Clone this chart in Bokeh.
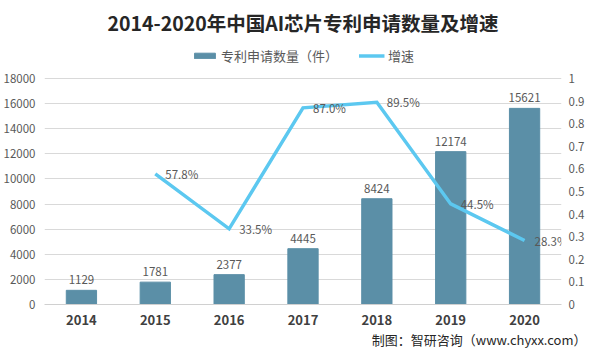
from bokeh.plotting import figure
from bokeh.models import (Range1d, LinearAxis, ColumnDataSource, Legend, LegendItem,
                          LabelSet, Title, FixedTicker, NumeralTickFormatter)
from bokeh.core.properties import value
from bokeh.embed import file_html
from bokeh.resources import INLINE

# ---- data ----
years = ["2014", "2015", "2016", "2017", "2018", "2019", "2020"]
counts = [1129, 1781, 2377, 4445, 8424, 12174, 15621]
growth_years = ["2015", "2016", "2017", "2018", "2019", "2020"]
growth = [0.578, 0.335, 0.870, 0.895, 0.445, 0.283]
count_ticks = [0, 2000, 4000, 6000, 8000, 10000, 12000, 14000, 16000, 18000]
pct_ticks = [0, 0.1, 0.2, 0.3, 0.4, 0.5, 0.6, 0.7, 0.8, 0.9, 1.0]
count_max = 18000
pct_max = 1.0

title_text = "2014-2020年中国AI芯片专利申请数量及增速"
bar_name = "专利申请数量（件）"
line_name = "增速"
footer_text = "制图：智研咨询（www.chyxx.com）"

BAR = "#5B8FA7"
LINE = "#5CC8F0"
TXT = "#595959"
CJK = "Noto Sans CJK SC"

# headroom above the top gridline (in px) where the legend sits, inside the frame
GRID_PX = 226.0
HEAD_PX = 37.0
ext = (GRID_PX + HEAD_PX) / GRID_PX

bar_src = ColumnDataSource(dict(year=years, count=counts, label=[str(c) for c in counts]))
line_src = ColumnDataSource(dict(year=growth_years, g=growth,
                                 label=["%.1f%%" % (v * 100) for v in growth]))

p = figure(width=589, height=348, x_range=years, y_range=Range1d(0, count_max * ext),
           output_backend="svg", toolbar_location=None,
           min_border_left=40, min_border_right=28, min_border_top=40, min_border_bottom=0)
p.extra_y_ranges = {"pct": Range1d(0, pct_max * ext)}
p.outline_line_color = None
p.background_fill_color = "white"
p.border_fill_color = "white"

bars = p.vbar(x="year", top="count", width=0.41, color=BAR, source=bar_src)
line = p.line(x="year", y="g", y_range_name="pct", source=line_src,
              line_color=LINE, line_width=3.5, line_join="miter")

p.add_layout(LabelSet(x="year", y="count", text="label", source=bar_src, y_offset=6,
                      text_align="center", text_baseline="bottom",
                      text_font_size="11.5px", text_color=TXT, text_font=value(CJK)))
p.add_layout(LabelSet(x="year", y="g", text="label", source=line_src, y_range_name="pct",
                      x_offset=10, text_align="left", text_baseline="middle",
                      text_font_size="11.5px", text_color=TXT, text_font=value(CJK)))


def style_axis(ax, size, standoff):
    ax.axis_line_color = None
    ax.major_tick_line_color = None
    ax.minor_tick_line_color = None
    ax.major_tick_out = 0
    ax.major_tick_in = 0
    ax.minor_tick_out = 0
    ax.minor_tick_in = 0
    ax.major_label_text_font_size = size
    ax.major_label_text_color = TXT
    ax.major_label_text_font = CJK
    ax.major_label_standoff = standoff


# left axis
ya = p.yaxis[0]
ya.ticker = FixedTicker(ticks=count_ticks)
style_axis(ya, "11.5px", 9)

# right axis
ra = LinearAxis(y_range_name="pct", ticker=FixedTicker(ticks=pct_ticks),
                formatter=NumeralTickFormatter(format="0.[0]"))
style_axis(ra, "11.5px", 7)
p.add_layout(ra, "right")

# x axis
xa = p.xaxis[0]
style_axis(xa, "13px", 10)
xa.axis_line_color = "#D0D0D0"
xa.major_label_text_font_style = "bold"
xa.major_label_text_color = "#404040"

p.xgrid.grid_line_color = None
p.ygrid.grid_line_color = "#D9D9D9"
p.ygrid.ticker = FixedTicker(ticks=count_ticks)

legend = Legend(items=[LegendItem(label=bar_name, renderers=[bars]),
                       LegendItem(label=line_name, renderers=[line])],
                orientation="horizontal", location="top_center",
                label_text_font=CJK, label_text_font_size="13px", label_text_color=TXT,
                glyph_width=26, glyph_height=7, label_standoff=4, spacing=20,
                border_line_color=None, background_fill_alpha=0, padding=2, margin=5)
p.add_layout(legend, "center")

p.add_layout(Title(text=footer_text, align="right", text_font=CJK, text_font_size="13px",
                   text_font_style="normal", text_color="#262626", standoff=0,
                   offset=-25), "below")

p.title.text = title_text
p.title.align = "center"
p.title.text_font = CJK
p.title.text_font_size = "19.5px"
p.title.text_font_style = "bold"
p.title.text_color = "#262626"

open("out.html", "w").write(file_html(p, INLINE))
